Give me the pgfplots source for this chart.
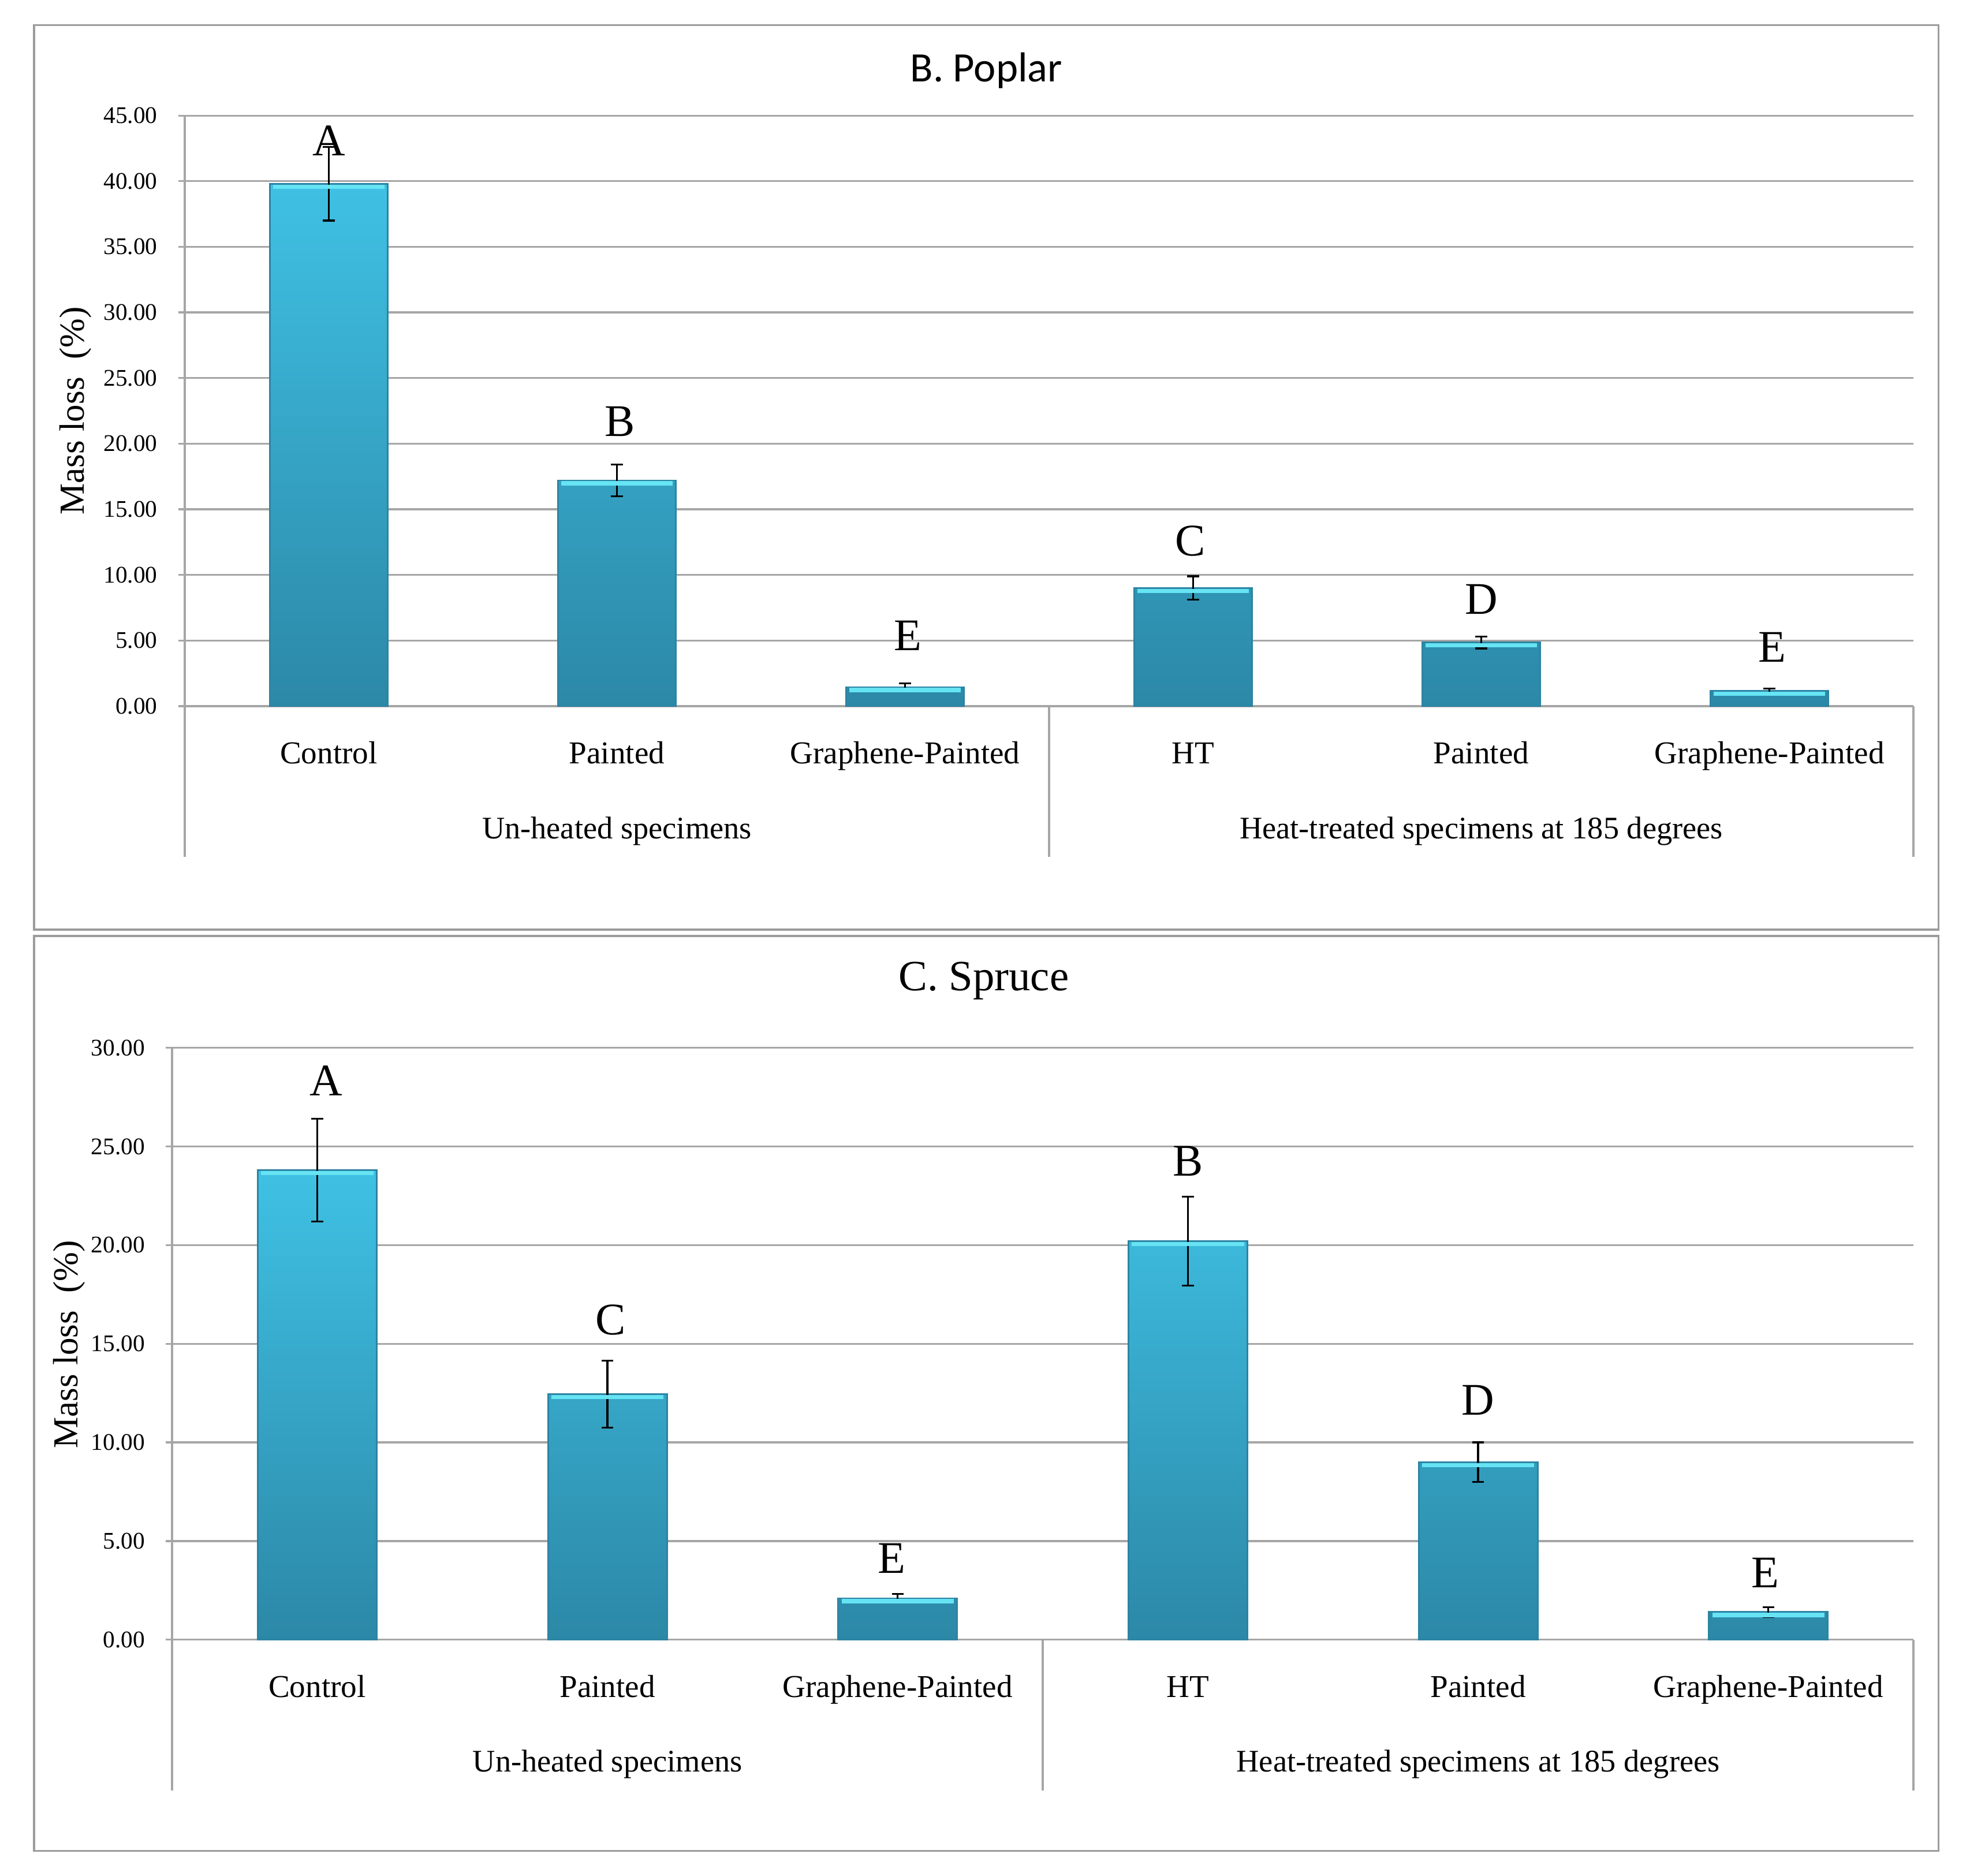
\documentclass[border=0pt]{standalone}
\usepackage{pgfplots}
\pgfplotsset{compat=1.18}
\usepackage{pgfplotstable}
\usepackage{fontspec}
\setmainfont{Liberation Serif}
\newfontfamily\titlesans{Carlito}

\definecolor{gridgray}{HTML}{A6A6A6}
\definecolor{framegray}{HTML}{9C9C9C}
\definecolor{bartop}{HTML}{3FC1E4}
\definecolor{barbot}{HTML}{2C88A7}
\definecolor{baredge}{HTML}{2C84A3}
\definecolor{barbevel}{HTML}{66E4F4}

% mean mass loss (%) and standard deviation
\pgfplotstableread{
x y e
0 39.8 2.8
1 17.2 1.2
2 1.45 0.3
3 9.0 0.9
4 4.85 0.45
5 1.15 0.2
}\poplar

\pgfplotstableread{
x y e
0 23.8 2.6
1 12.45 1.7
2 2.1 0.22
3 20.2 2.25
4 9.0 1.0
5 1.4 0.25
}\spruce

\tikzset{
  letter/.style={font=\fontsize{10.8}{12}\selectfont, anchor=center},
  grouplabel/.style={font=\fontsize{7.5}{9}\selectfont, anchor=base},
  divider/.style={gridgray, line width=0.45pt},
}

\pgfplotsset{
  massloss/.style={
    scale only axis,
    clip=false,
    xmin=-0.5, xmax=5.5, ymin=0,
    axis x line*=bottom, axis y line*=left,
    axis line style={gridgray, line width=0.45pt, -},
    ymajorgrids, grid style={gridgray, line width=0.45pt},
    tick align=outside, major tick length=1.5pt,
    tick style={gridgray, line width=0.45pt},
    xtick={0,...,5},
    xticklabels={Control,Painted,Graphene-Painted,HT,Painted,Graphene-Painted},
    x tick style={draw=none},
    xticklabel style={font=\fontsize{7.6}{9}\selectfont, anchor=base, yshift=-12.2pt},
    yticklabel style={font=\fontsize{5.7}{7}\selectfont, xshift=-1.5pt,
      /pgf/number format/fixed, /pgf/number format/fixed zerofill,
      /pgf/number format/precision=2, /pgf/number format/assume math mode=true},
  },
  bars/.style={ybar, bar width=0.41, draw=baredge, line width=0.4pt,
    top color=bartop, bottom color=barbot},
  bevel/.style={only marks, mark=-, mark size=#1,
    mark options={barbevel, line width=1pt, yshift=-0.7pt}},
  errs/.style={draw=none, mark=none,
    error bars/.cd, y dir=both, y explicit,
    error bar style={draw=black, line width=0.45pt},
    error mark options={rotate=90, draw=black, mark size=1.4pt, line width=0.45pt}},
}

\begin{document}
\begin{tikzpicture}
\path[use as bounding box] (0,0) rectangle (470.4pt,447.9pt);

% panel frames
\draw[framegray, line width=0.5pt] (8.1pt,225.9pt) rectangle (462.9pt,441.9pt);
\draw[framegray, line width=0.5pt] (8.1pt,6.0pt) rectangle (462.9pt,224.4pt);

% titles and axis labels
\node[font=\titlesans\fontsize{10}{12}\selectfont, anchor=base] at (235.5pt,428.4pt) {B. Poplar};
\node[font=\fontsize{10.3}{12}\selectfont, anchor=base] at (234.9pt,211.35pt) {C. Spruce};
\node[font=\fontsize{8.4}{10}\selectfont, rotate=90] at (18pt,349.8pt) {Mass loss\ \ (\%)};
\node[font=\fontsize{8.4}{10}\selectfont, rotate=90] at (16.5pt,126.9pt) {Mass loss\ \ (\%)};

% B. Poplar
\begin{axis}[massloss, at={(44.1pt,279.3pt)}, anchor=south west,
  width=412.8pt, height=141pt, ymax=45, ytick={0,5,...,45}]
  \addplot[bars] table[x=x, y=y] {\poplar};
  \addplot[bevel=13.3pt] table[x=x, y=y] {\poplar};
  \addplot[errs] table[x=x, y=y, y error=e] {\poplar};
  \node[letter] at (axis cs:0,43.1) {A};
  \node[letter] at (axis cs:1.01,21.7) {B};
  \node[letter] at (axis cs:2.01,5.36) {E};
  \node[letter] at (axis cs:2.99,12.6) {C};
  \node[letter] at (axis cs:4.0,8.15) {D};
  \node[letter] at (axis cs:5.01,4.49) {E};
  \draw[divider] (axis cs:-0.5,0) -- ++(0pt,-36pt);
  \draw[divider] (axis cs:2.5,0) -- ++(0pt,-36pt);
  \draw[divider] (axis cs:5.5,0) -- ++(0pt,-36pt);
  \node[grouplabel] at ([yshift=-31.6pt]axis cs:1,0) {Un-heated specimens};
  \node[grouplabel] at ([yshift=-31.6pt]axis cs:4,0) {Heat-treated specimens at 185 degrees};
\end{axis}

% C. Spruce
\begin{axis}[massloss, at={(41.1pt,56.4pt)}, anchor=south west,
  width=415.8pt, height=141.3pt, ymax=30, ytick={0,5,...,30}]
  \addplot[bars] table[x=x, y=y] {\spruce};
  \addplot[bevel=13.4pt] table[x=x, y=y] {\spruce};
  \addplot[errs] table[x=x, y=y, y error=e] {\spruce};
  \node[letter] at (axis cs:0.03,28.33) {A};
  \node[letter] at (axis cs:1.01,16.2) {C};
  \node[letter] at (axis cs:1.98,4.11) {E};
  \node[letter] at (axis cs:3.0,24.25) {B};
  \node[letter] at (axis cs:4.0,12.13) {D};
  \node[letter] at (axis cs:4.99,3.4) {E};
  \draw[divider] (axis cs:-0.5,0) -- ++(0pt,-36pt);
  \draw[divider] (axis cs:2.5,0) -- ++(0pt,-36pt);
  \draw[divider] (axis cs:5.5,0) -- ++(0pt,-36pt);
  \node[grouplabel] at ([yshift=-31.6pt]axis cs:1,0) {Un-heated specimens};
  \node[grouplabel] at ([yshift=-31.6pt]axis cs:4,0) {Heat-treated specimens at 185 degrees};
\end{axis}
\end{tikzpicture}
\end{document}
